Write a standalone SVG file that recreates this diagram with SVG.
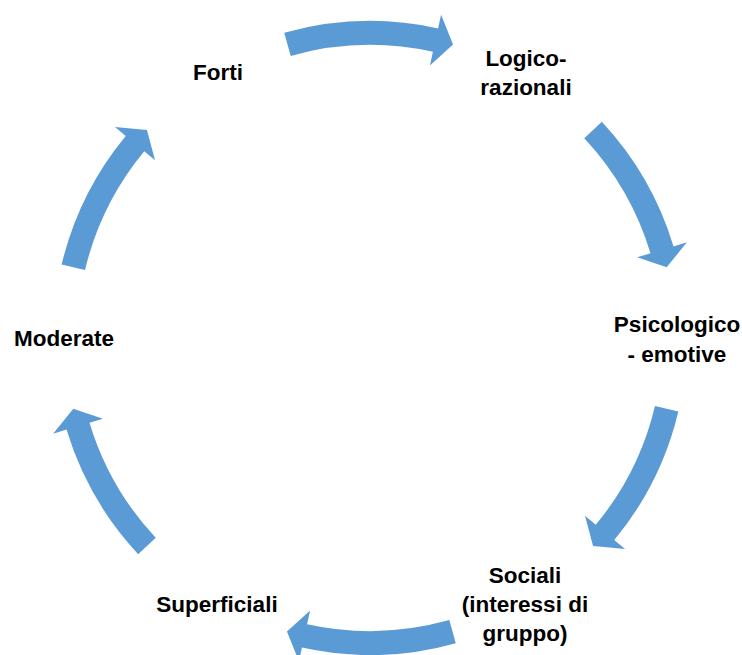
<svg xmlns="http://www.w3.org/2000/svg" xmlns:xlink="http://www.w3.org/1999/xlink" width="742" height="655" viewBox="0 0 742 655">
  <style>
    .arrow { fill: #5B9BD5; }
    .label { font-family: "Liberation Sans", Arial, sans-serif; font-weight: bold; font-size: 22.5px; fill: #000000; text-anchor: middle; }
  </style>
  <defs>
    <!-- Curved block arrows on a ring centred at (370,338): centre radius 305, band 293..317, head 279..331 -->
    <path id="arcArrowWide" class="arrow"
          d="M284.22,32.83 A317,317 0 0 1 438.07,28.40 L441.08,14.72 L453.05,44.52 L429.91,65.51 L432.92,51.84 A293,293 0 0 0 290.71,55.93 Z"/>
    <path id="arcArrow" class="arrow"
          d="M289.04,31.52 A317,317 0 0 1 432.67,27.24 L435.44,13.52 L447.90,43.13 L425.16,64.50 L427.93,50.77 A293,293 0 0 0 295.17,54.73 Z"/>
  </defs>

  <g id="connectors">
    <use xlink:href="#arcArrowWide"/>
    <use xlink:href="#arcArrow" transform="rotate(61.8 370 338)"/>
    <use xlink:href="#arcArrow" transform="rotate(118.2 370 338)"/>
    <use xlink:href="#arcArrowWide" transform="rotate(180 370 338)"/>
    <use xlink:href="#arcArrow" transform="rotate(241.8 370 338)"/>
    <use xlink:href="#arcArrow" transform="rotate(298.2 370 338)"/>
  </g>

  <g id="node-forti">
    <text class="label" x="218" y="80">Forti</text>
  </g>
  <g id="node-logico-razionali">
    <text class="label" x="526" y="66">Logico-</text>
    <text class="label" x="526" y="95">razionali</text>
  </g>
  <g id="node-psicologico-emotive">
    <text class="label" x="677" y="332">Psicologico</text>
    <text class="label" x="677" y="362">- emotive</text>
  </g>
  <g id="node-sociali">
    <text class="label" x="525" y="583">Sociali</text>
    <text class="label" x="525" y="612">(interessi di</text>
    <text class="label" x="525" y="641">gruppo)</text>
  </g>
  <g id="node-superficiali">
    <text class="label" x="217" y="612">Superficiali</text>
  </g>
  <g id="node-moderate">
    <text class="label" x="64" y="346">Moderate</text>
  </g>
</svg>
